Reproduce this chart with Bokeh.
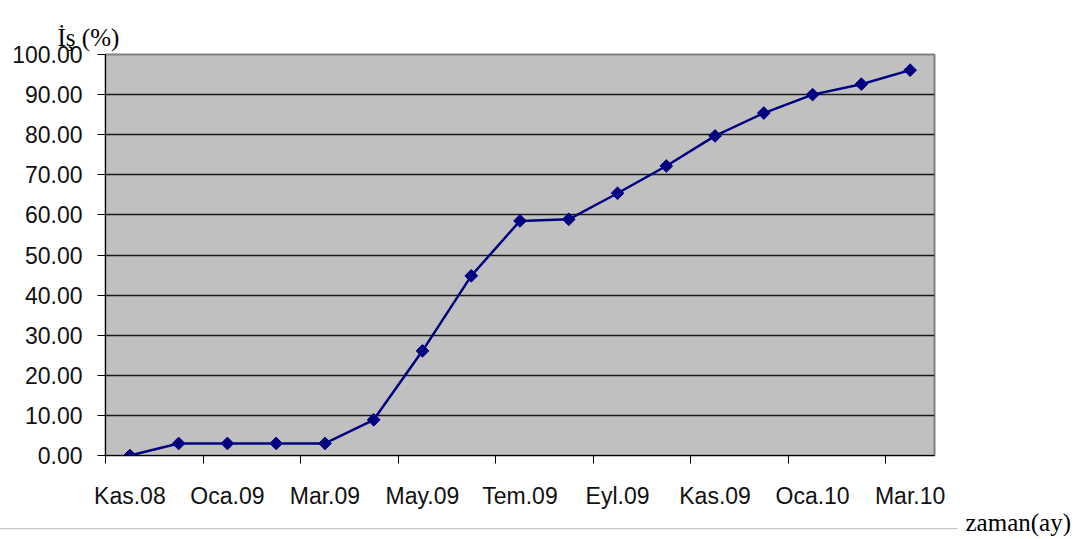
from bokeh.plotting import figure
from bokeh.models import (Range1d, FixedTicker, NumeralTickFormatter, Title)
from bokeh.embed import file_html
from bokeh.resources import INLINE
import numpy as np

months = ["Kas.08", "Ara.08", "Oca.09", "Şub.09", "Mar.09", "Nis.09", "May.09",
          "Haz.09", "Tem.09", "Ağu.09", "Eyl.09", "Eki.09", "Kas.09", "Ara.09",
          "Oca.10", "Şub.10", "Mar.10"]
work_pct = [0.0, 3.0, 3.0, 3.0, 3.0, 8.9, 26.1, 44.8, 58.5, 58.9, 65.4,
            72.2, 79.7, 85.4, 90.0, 92.6, 96.1]
y_ticks = [0, 10, 20, 30, 40, 50, 60, 70, 80, 90, 100]

x = list(range(len(months)))

p = figure(width=1080, height=539, output_backend="svg", toolbar_location=None,
           x_range=Range1d(-0.5, len(months) - 0.5), y_range=Range1d(0, 100),
           min_border_left=105, min_border_top=54, min_border_right=146,
           min_border_bottom=84)

# above: y caption on top, then an invisible spacer next to the frame
p.add_layout(Title(text="İş (%)", align="left", offset=-48, standoff=4,
                   vertical_align="top",
                   text_font="Liberation Serif", text_font_size="25px",
                   text_font_style="normal", text_color="black"), "above")
p.add_layout(Title(text=".", align="left", standoff=2, vertical_align="top",
                   text_font="Liberation Sans", text_font_size="20px",
                   text_alpha=0), "above")

p.background_fill_color = "#C0C0C0"
p.border_fill_color = "white"
p.outline_line_color = "#808080"
p.outline_line_width = 2

# grid
p.xgrid.visible = False
p.ygrid.ticker = FixedTicker(ticks=y_ticks)
p.ygrid.grid_line_color = "#1a1a1a"
p.ygrid.grid_line_width = 1.3

# y axis
p.yaxis.ticker = FixedTicker(ticks=y_ticks)
p.yaxis.formatter = NumeralTickFormatter(format="0.00")
p.yaxis.major_label_text_font = "Liberation Sans"
p.yaxis.major_label_text_font_size = "23px"
p.yaxis.major_label_text_color = "#111111"
p.yaxis.major_label_standoff = 15
p.yaxis.major_tick_out = 8
p.yaxis.major_tick_in = 0
p.yaxis.minor_tick_line_color = None
p.yaxis.axis_line_color = "black"
p.yaxis.major_tick_line_color = "black"

# x axis
label_pos = x[::2]
boundaries = [i - 0.5 for i in x[::2]]
p.xaxis.ticker = FixedTicker(ticks=label_pos, minor_ticks=boundaries)
p.xaxis.major_label_overrides = {i: months[i] for i in label_pos}
p.xaxis.major_label_text_font = "Liberation Sans"
p.xaxis.major_label_text_font_size = "23px"
p.xaxis.major_label_text_color = "#111111"
p.xaxis.major_tick_out = 0
p.xaxis.major_tick_in = 0
p.xaxis.minor_tick_out = 8
p.xaxis.minor_tick_in = 0
p.xaxis.minor_tick_line_color = "black"
p.xaxis.major_label_standoff = 19
p.xaxis.axis_line_color = "black"

# data
p.line(x, work_pct, line_color="#000080", line_width=2.5)
p.scatter(x, work_pct, marker="square", angle=np.pi / 4, size=9,
          fill_color="#000080", line_color="#000080")

# thin separator line and x axis caption below the chart
p.add_layout(Title(text="_" * 86, align="left", offset=-105, standoff=-10,
                   vertical_align="top", text_font="Liberation Sans",
                   text_font_size="20px", text_font_style="normal",
                   text_color="#c8c8c8"), "below")
p.add_layout(Title(text="zaman(ay)", align="left", offset=860, standoff=-34,
                   vertical_align="top", text_font="Liberation Serif",
                   text_font_size="25px", text_font_style="normal",
                   text_color="black"), "below")

open("out.html", "w").write(file_html(p, INLINE))
